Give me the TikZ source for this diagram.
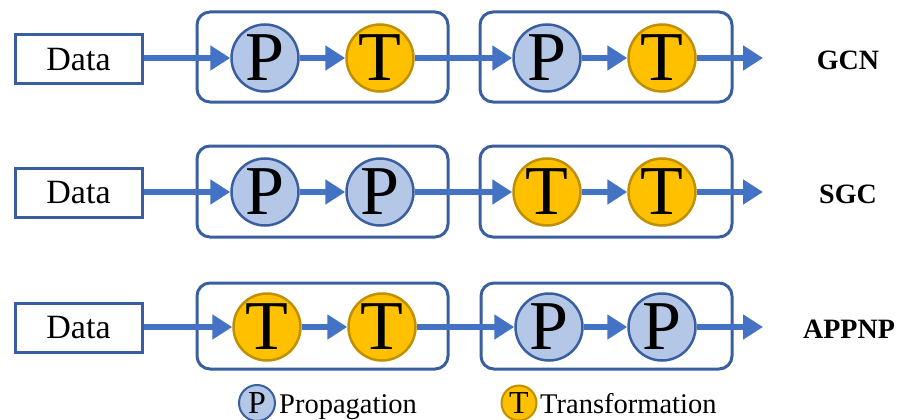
\documentclass[tikz,border=0pt]{standalone}
\usepackage{fontspec}
\setmainfont{Liberation Serif}
\usetikzlibrary{arrows.meta}
\definecolor{arrowblue}{HTML}{4472C4}
\definecolor{edgeblue}{HTML}{3A5FA0}
\definecolor{pfill}{HTML}{B4C7E7}
\definecolor{tfill}{HTML}{FFC000}
\definecolor{tedge}{HTML}{BF9000}
\tikzset{
  databox/.style={draw=edgeblue,line width=3pt,minimum width=127pt,minimum height=49pt,inner sep=0pt,font=\fontsize{34}{36}\selectfont},
  groupbox/.style={draw=edgeblue,line width=3pt,rounded corners=13pt},
  pnode/.style={circle,draw=edgeblue,fill=pfill,line width=2.5pt,minimum size=67pt,inner sep=0pt,font=\fontsize{70}{70}\selectfont},
  tnode/.style={circle,draw=tedge,fill=tfill,line width=2.5pt,minimum size=67pt,inner sep=0pt,font=\fontsize{70}{70}\selectfont},
  flow/.style={draw=arrowblue,line width=6pt,-{Triangle[length=20pt,width=24pt]}},
  model/.style={font=\bfseries\fontsize{28}{30}\selectfont},
  lp/.style={circle,draw=edgeblue,fill=pfill,line width=2pt,minimum size=36pt,inner sep=0pt,font=\fontsize{32}{32}\selectfont},
  lt/.style={circle,draw=tedge,fill=tfill,line width=2pt,minimum size=35pt,inner sep=0pt,font=\fontsize{32}{32}\selectfont},
  legtext/.style={font=\fontsize{28.5}{30}\selectfont,inner sep=0pt,anchor=base west}
}
\begin{document}
\begin{tikzpicture}[x=1pt,y=-1pt]
\useasboundingbox (0,0) rectangle (900,420);
% Row 1: GCN
\draw[groupbox] (197,12) rectangle (448,102);
\draw[groupbox] (480,12) rectangle (732,102);
\node[databox] (d1) at (78.5,59.5) {Data};
\node[pnode] (a1) at (265,58) {P};
\node[tnode] (b1) at (380,58) {T};
\node[pnode] (c1) at (547,58) {P};
\node[tnode] (e1) at (662,58) {T};
\coordinate (o1) at (763,58);
\node[model] (m1) at (848,60) {GCN};
\draw[flow] (d1.east |- a1) -- (a1);
\draw[flow] (a1) -- (b1);
\draw[flow] (b1) -- (c1);
\draw[flow] (c1) -- (e1);
\draw[flow] (e1) -- (o1);
% Row 2: SGC
\draw[groupbox] (197,146) rectangle (448,237);
\draw[groupbox] (480,146) rectangle (732,237);
\node[databox] (d2) at (78.5,192.5) {Data};
\node[pnode] (a2) at (265,192) {P};
\node[pnode] (b2) at (380,192) {P};
\node[tnode] (c2) at (547,192) {T};
\node[tnode] (e2) at (662,192) {T};
\coordinate (o2) at (763,192);
\node[model] (m2) at (848,194) {SGC};
\draw[flow] (d2.east |- a2) -- (a2);
\draw[flow] (a2) -- (b2);
\draw[flow] (b2) -- (c2);
\draw[flow] (c2) -- (e2);
\draw[flow] (e2) -- (o2);
% Row 3: APPNP
\draw[groupbox] (197,283) rectangle (448,369);
\draw[groupbox] (481,283) rectangle (732,369);
\node[databox] (d3) at (78.5,327.5) {Data};
\node[tnode] (a3) at (267,327) {T};
\node[tnode] (b3) at (382,327) {T};
\node[pnode] (c3) at (549,327) {P};
\node[pnode] (e3) at (662,327) {P};
\coordinate (o3) at (763,327);
\node[model] (m3) at (849,329) {APPNP};
\draw[flow] (d3.east |- a3) -- (a3);
\draw[flow] (a3) -- (b3);
\draw[flow] (b3) -- (c3);
\draw[flow] (c3) -- (e3);
\draw[flow] (e3) -- (o3);
% Legend
\node[lp] (lgp) at (257,403) {P};
\node[legtext] (lgpt) at (279,413) {Propagation};
\node[lt] (lgt) at (519,403) {T};
\node[legtext] (lgtt) at (540,413) {Transformation};
\end{tikzpicture}
\end{document}
